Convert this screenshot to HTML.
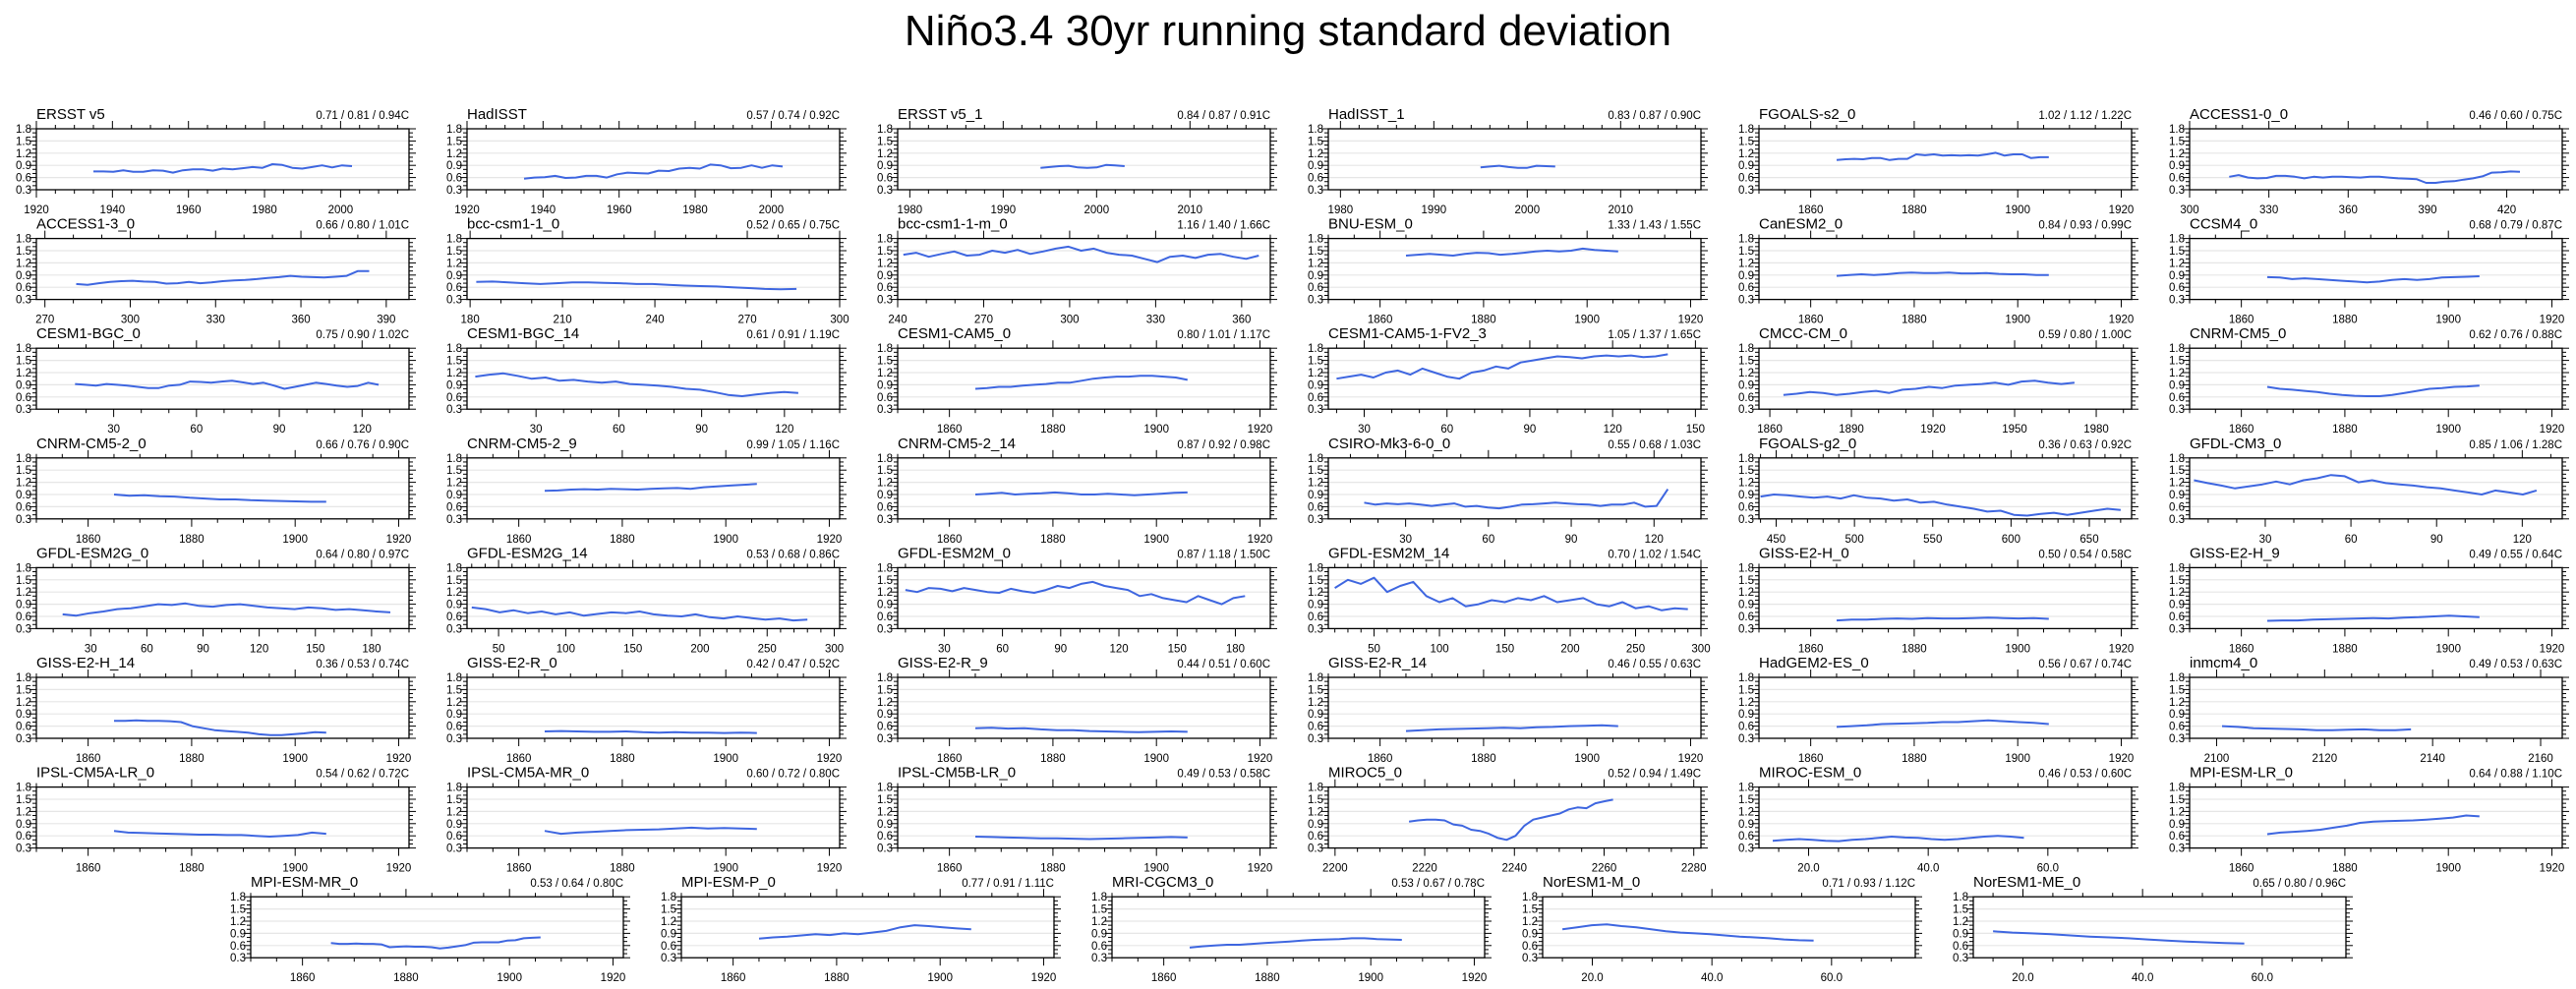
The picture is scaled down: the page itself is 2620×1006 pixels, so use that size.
<!DOCTYPE html>
<html><head><meta charset="utf-8"><style>
html,body{margin:0;padding:0;background:#fff;}
svg{display:block;font-family:"Liberation Sans",sans-serif;}
</style></head><body>
<svg id="fig" width="2620" height="1006" viewBox="0 0 2620 1006" xmlns="http://www.w3.org/2000/svg">
<text x="1310" y="46" font-size="44" text-anchor="middle" fill="#000">Niño3.4 30yr running standard deviation</text>
</svg>
<script>
const names=["ERSST v5","HadISST","ERSST v5_1","HadISST_1","FGOALS-s2_0","ACCESS1-0_0",
"ACCESS1-3_0","bcc-csm1-1_0","bcc-csm1-1-m_0","BNU-ESM_0","CanESM2_0","CCSM4_0",
"CESM1-BGC_0","CESM1-BGC_14","CESM1-CAM5_0","CESM1-CAM5-1-FV2_3","CMCC-CM_0","CNRM-CM5_0",
"CNRM-CM5-2_0","CNRM-CM5-2_9","CNRM-CM5-2_14","CSIRO-Mk3-6-0_0","FGOALS-g2_0","GFDL-CM3_0",
"GFDL-ESM2G_0","GFDL-ESM2G_14","GFDL-ESM2M_0","GFDL-ESM2M_14","GISS-E2-H_0","GISS-E2-H_9",
"GISS-E2-H_14","GISS-E2-R_0","GISS-E2-R_9","GISS-E2-R_14","HadGEM2-ES_0","inmcm4_0",
"IPSL-CM5A-LR_0","IPSL-CM5A-MR_0","IPSL-CM5B-LR_0","MIROC5_0","MIROC-ESM_0","MPI-ESM-LR_0",
"MPI-ESM-MR_0","MPI-ESM-P_0","MRI-CGCM3_0","NorESM1-M_0","NorESM1-ME_0"];
const stats=["0.71 / 0.81 / 0.94C","0.57 / 0.74 / 0.92C","0.84 / 0.87 / 0.91C","0.83 / 0.87 / 0.90C","1.02 / 1.12 / 1.22C","0.46 / 0.60 / 0.75C",
"0.66 / 0.80 / 1.01C","0.52 / 0.65 / 0.75C","1.16 / 1.40 / 1.66C","1.33 / 1.43 / 1.55C","0.84 / 0.93 / 0.99C","0.68 / 0.79 / 0.87C",
"0.75 / 0.90 / 1.02C","0.61 / 0.91 / 1.19C","0.80 / 1.01 / 1.17C","1.05 / 1.37 / 1.65C","0.59 / 0.80 / 1.00C","0.62 / 0.76 / 0.88C",
"0.66 / 0.76 / 0.90C","0.99 / 1.05 / 1.16C","0.87 / 0.92 / 0.98C","0.55 / 0.68 / 1.03C","0.36 / 0.63 / 0.92C","0.85 / 1.06 / 1.28C",
"0.64 / 0.80 / 0.97C","0.53 / 0.68 / 0.86C","0.87 / 1.18 / 1.50C","0.70 / 1.02 / 1.54C","0.50 / 0.54 / 0.58C","0.49 / 0.55 / 0.64C",
"0.36 / 0.53 / 0.74C","0.42 / 0.47 / 0.52C","0.44 / 0.51 / 0.60C","0.46 / 0.55 / 0.63C","0.56 / 0.67 / 0.74C","0.49 / 0.53 / 0.63C",
"0.54 / 0.62 / 0.72C","0.60 / 0.72 / 0.80C","0.49 / 0.53 / 0.58C","0.52 / 0.94 / 1.49C","0.46 / 0.53 / 0.60C","0.64 / 0.88 / 1.10C",
"0.53 / 0.64 / 0.80C","0.77 / 0.91 / 1.11C","0.53 / 0.67 / 0.78C","0.71 / 0.93 / 1.12C","0.65 / 0.80 / 0.96C"];
// x-axis: [min, max, first major tick, major step, minor step, last major tick, label decimals]
const xaxes=[[1920,2018,1920,20,5,2000,0],[1920,2018,1920,20,5,2000,0],[1978.7,2018.6,1980,10,2,2010,0],[1978.7,2018.6,1980,10,2,2010,0],[1850,1922,1860,20,5,1920,0],[300,441,300,30,10,420,0],
[267,398,270,30,10,390,0],[179,300,180,30,10,300,0],[240,370,240,30,10,360,0],[1850,1922,1860,20,5,1920,0],[1850,1922,1860,20,5,1920,0],[1850,1922,1860,20,5,1920,0],
[2,137,30,30,10,120,0],[5,140,30,30,10,120,0],[1850,1922,1860,20,5,1920,0],[17,152,30,30,10,150,0],[1856,1993,1860,30,10,1980,0],[1850,1922,1860,20,5,1920,0],
[1850,1922,1860,20,5,1920,0],[1850,1922,1860,20,5,1920,0],[1850,1922,1860,20,5,1920,0],[2,137,30,30,10,120,0],[439,677,450,50,10,650,0],[3.5,134,30,30,10,120,0],
[1,200,30,30,10,180,0],[26.5,304,50,50,10,300,0],[6,198,30,30,10,180,0],[15,300,50,50,10,300,0],[1850,1922,1860,20,5,1920,0],[1850,1922,1860,20,5,1920,0],
[1850,1922,1860,20,5,1920,0],[1850,1922,1860,20,5,1920,0],[1850,1922,1860,20,5,1920,0],[1850,1922,1860,20,5,1920,0],[1850,1922,1860,20,5,1920,0],[2095,2164,2100,20,5,2160,0],
[1850,1922,1860,20,5,1920,0],[1850,1922,1860,20,5,1920,0],[1850,1922,1860,20,5,1920,0],[2198.5,2281.6,2200,20,5,2280,0],[11.7,74,20,20,5,60,1],[1850,1922,1860,20,5,1920,0],
[1850,1922,1860,20,5,1920,0],[1850,1922,1860,20,5,1920,0],[1850,1922,1860,20,5,1920,0],[11.7,74,20,20,5,60,1],[11.7,74,20,20,5,60,1]];
const spans=[[1935,2003],[1935,2003],[1994,2003],[1995,2003],[1865,1906],[315,425],
[281,384],[182,286],[242,366],[1865,1906],[1865,1906],[1865,1906],
[16,126],[8,125],[1865,1906],[20,140],[1865,1972],[1865,1906],
[1865,1906],[1865,1906],[1865,1906],[15,125],[440,670],[5,125],
[15,190],[30,280],[10,185],[20,290],[1865,1906],[1865,1906],
[1865,1906],[1865,1906],[1865,1906],[1865,1906],[1865,1906],[2101,2136],
[1865,1906],[1865,1906],[1865,1906],[2216.5,2262],[14,56],[1865,1906],
[1865.5,1906],[1865,1906],[1865,1906],[15,57],[15,57]];
const series=[
[0.75,0.75,0.74,0.78,0.74,0.74,0.78,0.77,0.72,0.78,0.80,0.80,0.77,0.82,0.80,0.83,0.86,0.84,0.93,0.91,0.84,0.82,0.86,0.90,0.85,0.90,0.88],
[0.57,0.60,0.61,0.64,0.59,0.60,0.64,0.64,0.60,0.68,0.72,0.71,0.70,0.77,0.76,0.82,0.84,0.82,0.92,0.90,0.83,0.84,0.90,0.84,0.90,0.87],
[0.84,0.86,0.88,0.89,0.85,0.84,0.85,0.91,0.90,0.88],
[0.85,0.87,0.89,0.86,0.84,0.84,0.89,0.88,0.87],
[1.03,1.05,1.06,1.05,1.08,1.08,1.03,1.06,1.06,1.17,1.15,1.17,1.14,1.15,1.14,1.15,1.14,1.17,1.21,1.14,1.17,1.17,1.08,1.10,1.10],
[0.62,0.66,0.60,0.58,0.59,0.64,0.64,0.62,0.58,0.62,0.60,0.62,0.62,0.61,0.60,0.62,0.62,0.60,0.58,0.57,0.56,0.47,0.47,0.50,0.51,0.55,0.58,0.63,0.72,0.73,0.75,0.74],
[0.68,0.66,0.70,0.73,0.75,0.76,0.74,0.73,0.69,0.70,0.73,0.70,0.72,0.75,0.77,0.78,0.80,0.83,0.85,0.88,0.86,0.85,0.84,0.86,0.88,1.00,1.00],
[0.73,0.74,0.72,0.70,0.68,0.70,0.72,0.72,0.71,0.70,0.68,0.68,0.66,0.64,0.63,0.62,0.60,0.58,0.56,0.55,0.56],
[1.40,1.45,1.35,1.42,1.48,1.38,1.40,1.50,1.45,1.52,1.42,1.48,1.55,1.60,1.50,1.55,1.45,1.40,1.38,1.30,1.22,1.35,1.38,1.32,1.40,1.42,1.35,1.30,1.38],
[1.38,1.40,1.42,1.40,1.38,1.42,1.45,1.44,1.40,1.42,1.45,1.48,1.50,1.48,1.50,1.55,1.52,1.50,1.48],
[0.88,0.90,0.92,0.90,0.92,0.95,0.96,0.95,0.95,0.96,0.94,0.94,0.95,0.93,0.92,0.92,0.90,0.90],
[0.85,0.84,0.80,0.82,0.80,0.78,0.76,0.74,0.72,0.74,0.78,0.80,0.78,0.80,0.84,0.85,0.86,0.87],
[0.92,0.90,0.88,0.92,0.90,0.88,0.85,0.82,0.82,0.88,0.90,0.98,0.97,0.95,0.98,1.00,0.96,0.92,0.95,0.88,0.80,0.85,0.90,0.95,0.92,0.88,0.85,0.87,0.95,0.90],
[1.10,1.15,1.18,1.12,1.05,1.08,1.00,1.02,0.98,0.95,0.98,0.92,0.90,0.88,0.85,0.80,0.78,0.72,0.65,0.62,0.66,0.70,0.72,0.70],
[0.80,0.82,0.85,0.85,0.88,0.90,0.92,0.95,0.95,1.00,1.05,1.08,1.10,1.10,1.12,1.12,1.10,1.08,1.02],
[1.05,1.10,1.15,1.08,1.20,1.25,1.15,1.30,1.20,1.10,1.05,1.20,1.25,1.35,1.30,1.45,1.50,1.55,1.60,1.58,1.55,1.60,1.62,1.60,1.62,1.58,1.60,1.65],
[0.65,0.68,0.72,0.70,0.65,0.68,0.72,0.75,0.70,0.78,0.80,0.85,0.82,0.88,0.90,0.92,0.95,0.90,0.98,1.00,0.95,0.92,0.95],
[0.85,0.80,0.78,0.75,0.72,0.68,0.65,0.63,0.62,0.62,0.65,0.70,0.75,0.80,0.82,0.85,0.86,0.88],
[0.90,0.87,0.88,0.86,0.85,0.82,0.80,0.78,0.78,0.76,0.75,0.74,0.73,0.72,0.72],
[0.99,1.00,1.02,1.03,1.02,1.04,1.03,1.02,1.04,1.05,1.06,1.04,1.08,1.10,1.12,1.14,1.16],
[0.90,0.92,0.94,0.90,0.92,0.93,0.95,0.93,0.90,0.90,0.92,0.90,0.88,0.90,0.92,0.94,0.95],
[0.70,0.65,0.68,0.66,0.68,0.65,0.62,0.65,0.68,0.60,0.62,0.58,0.56,0.60,0.65,0.66,0.68,0.70,0.68,0.66,0.65,0.62,0.65,0.65,0.70,0.60,0.62,1.03],
[0.85,0.90,0.88,0.85,0.82,0.85,0.80,0.88,0.82,0.80,0.75,0.78,0.70,0.72,0.65,0.60,0.55,0.48,0.50,0.40,0.38,0.42,0.45,0.40,0.45,0.50,0.55,0.52],
[1.25,1.18,1.12,1.05,1.10,1.15,1.22,1.15,1.25,1.30,1.38,1.35,1.20,1.25,1.18,1.15,1.12,1.08,1.05,1.00,0.95,0.90,1.00,0.95,0.90,1.00],
[0.65,0.62,0.68,0.72,0.78,0.80,0.85,0.90,0.88,0.92,0.86,0.84,0.88,0.90,0.86,0.82,0.80,0.78,0.82,0.80,0.76,0.78,0.75,0.72,0.70],
[0.82,0.78,0.70,0.75,0.68,0.72,0.65,0.70,0.62,0.66,0.70,0.68,0.72,0.65,0.62,0.60,0.65,0.58,0.55,0.60,0.56,0.52,0.55,0.50,0.52],
[1.25,1.20,1.30,1.28,1.22,1.30,1.25,1.20,1.18,1.28,1.22,1.18,1.25,1.35,1.30,1.40,1.45,1.35,1.30,1.25,1.10,1.15,1.05,1.00,0.95,1.10,1.00,0.90,1.05,1.10],
[1.30,1.50,1.40,1.55,1.20,1.35,1.45,1.10,0.95,1.05,0.85,0.90,1.00,0.95,1.05,1.00,1.10,0.95,1.00,1.05,0.90,0.85,0.95,0.80,0.85,0.75,0.80,0.78],
[0.50,0.52,0.52,0.54,0.55,0.54,0.56,0.55,0.55,0.56,0.57,0.56,0.55,0.56,0.54],
[0.49,0.50,0.50,0.52,0.53,0.54,0.55,0.56,0.55,0.57,0.58,0.60,0.62,0.60,0.58],
[0.73,0.73,0.74,0.73,0.73,0.72,0.70,0.60,0.55,0.50,0.48,0.46,0.44,0.40,0.38,0.38,0.40,0.42,0.45,0.44],
[0.47,0.48,0.47,0.46,0.46,0.47,0.45,0.44,0.45,0.44,0.44,0.43,0.44,0.43],
[0.55,0.56,0.54,0.55,0.52,0.50,0.50,0.48,0.47,0.46,0.45,0.46,0.47,0.46],
[0.48,0.50,0.52,0.53,0.54,0.55,0.56,0.55,0.57,0.58,0.60,0.61,0.62,0.60],
[0.58,0.60,0.62,0.65,0.66,0.67,0.68,0.70,0.70,0.72,0.74,0.72,0.70,0.68,0.65],
[0.60,0.58,0.55,0.54,0.53,0.52,0.50,0.50,0.51,0.52,0.50,0.50,0.52],
[0.72,0.68,0.67,0.66,0.65,0.64,0.63,0.63,0.62,0.62,0.60,0.58,0.60,0.62,0.68,0.65],
[0.72,0.65,0.68,0.70,0.72,0.74,0.75,0.76,0.78,0.80,0.78,0.79,0.78,0.77],
[0.58,0.57,0.56,0.55,0.54,0.54,0.53,0.52,0.53,0.54,0.55,0.56,0.57,0.56],
[0.95,0.98,1.00,1.00,0.98,0.88,0.85,0.75,0.72,0.65,0.55,0.50,0.60,0.85,1.00,1.05,1.10,1.15,1.25,1.30,1.28,1.40,1.45,1.49],
[0.48,0.50,0.52,0.50,0.48,0.47,0.50,0.52,0.55,0.58,0.56,0.55,0.52,0.50,0.52,0.55,0.58,0.60,0.58,0.55],
[0.64,0.68,0.70,0.72,0.75,0.80,0.85,0.92,0.95,0.96,0.97,0.98,1.00,1.02,1.05,1.10,1.08],
[0.66,0.64,0.64,0.65,0.64,0.64,0.63,0.56,0.57,0.58,0.57,0.57,0.56,0.53,0.55,0.58,0.61,0.67,0.68,0.68,0.68,0.72,0.73,0.78,0.79,0.80],
[0.77,0.80,0.82,0.85,0.88,0.86,0.90,0.88,0.92,0.96,1.05,1.10,1.08,1.05,1.02,1.00],
[0.55,0.58,0.60,0.62,0.62,0.64,0.66,0.68,0.70,0.72,0.74,0.75,0.76,0.78,0.78,0.76,0.75,0.74],
[1.00,1.05,1.10,1.12,1.08,1.05,1.00,0.95,0.92,0.90,0.88,0.85,0.82,0.80,0.78,0.75,0.73,0.72],
[0.95,0.92,0.90,0.88,0.85,0.82,0.80,0.78,0.75,0.72,0.70,0.68,0.66,0.65]];
const yTicks=[0.3,0.6,0.9,1.2,1.5,1.8];
const yMin=0.3, yMax=1.8;

const NS="http://www.w3.org/2000/svg";
const svg=document.getElementById('fig');
function mk(tag,attrs,parent){const e=document.createElementNS(NS,tag);for(const k in attrs)e.setAttribute(k,attrs[k]);parent.appendChild(e);return e;}
const W=379,H=62;
names.forEach((nm,i)=>{
  let r=Math.floor(i/6),c=i%6,L,T;
  if(i>=42){r=7;c=i-42;L=255+438*c;}else{L=37+438*c;}
  T=131+111.6*r;
  const ax=xaxes[i];
  const xs=v=>L+(v-ax[0])/(ax[1]-ax[0])*W;
  const ys=v=>T+H-(v-yMin)/(yMax-yMin)*H;
  const slug=nm.toLowerCase().replace(/[^a-z0-9]+/g,'-');
  const g=mk('g',{},svg);
  
  
  yTicks.slice(1,-1).forEach(v=>{const gl=mk('line',{x1:L,x2:L+W,y1:ys(v),y2:ys(v),stroke:'#e6e6e6','stroke-width':1.2},g);
    });
  for(let k=0;k<=15;k++){const v=yMin+k*0.1;const y=ys(v);const maj=(k%3===0);const len=maj?7:4;
    mk('line',{x1:L-len,x2:L,y1:y,y2:y,stroke:'#000','stroke-width':1},g);
    mk('line',{x1:L+W,x2:L+W+len,y1:y,y2:y,stroke:'#000','stroke-width':1},g);}
  yTicks.forEach(v=>{const t=mk('text',{x:L-5,y:ys(v)+4,'font-size':11.5,'text-anchor':'end',fill:'#000'},g);t.textContent=v.toFixed(1);
    });
  const eps=1e-6;
  for(let v=ax[2]-Math.floor((ax[2]-ax[0])/ax[4])*ax[4]; v<=ax[1]+eps; v+=ax[4]){
    if(v<ax[0]-eps)continue;const x=xs(v);
    const maj=Math.abs(((v-ax[2])/ax[3])-Math.round((v-ax[2])/ax[3]))<1e-6;const len=maj?8:4;
    mk('line',{x1:x,x2:x,y1:T+H,y2:T+H+len,stroke:'#000','stroke-width':1},g);
    mk('line',{x1:x,x2:x,y1:T-len,y2:T,stroke:'#000','stroke-width':1},g);}
  for(let v=ax[2]; v<=ax[5]+eps; v+=ax[3]){
    const t=mk('text',{x:xs(v),y:T+H+24,'font-size':11.5,'text-anchor':'middle',fill:'#000'},g);
    t.textContent=v.toFixed(ax[6]);
    }
  const fr=mk('rect',{x:L,y:T,width:W,height:H,fill:'none',stroke:'#000','stroke-width':1.3},g);
  
  const vals=series[i],sp=spans[i],n=vals.length;
  const pts=vals.map((v,k)=>xs(sp[0]+(sp[1]-sp[0])*k/(n-1)).toFixed(1)+','+ys(v).toFixed(1)).join(' ');
  const pl=mk('polyline',{points:pts,fill:'none',stroke:'#3e66e0','stroke-width':2,'stroke-linejoin':'round'},g);
  
  const tt=mk('text',{x:L,y:T-10,'font-size':15,fill:'#000'},g);tt.textContent=nm;
  
  const st=mk('text',{x:L+W,y:T-10,'font-size':11.5,'text-anchor':'end',fill:'#000'},g);st.textContent=stats[i];
  
});
</script>
</body></html>
